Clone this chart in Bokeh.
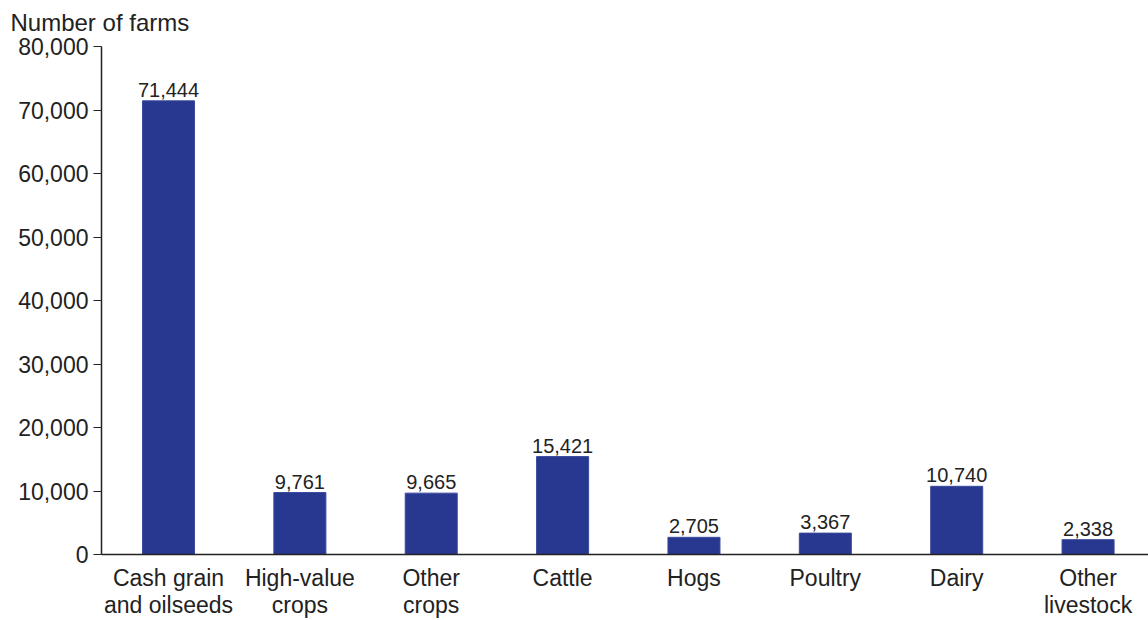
from bokeh.plotting import figure
from bokeh.models import FixedTicker, NumeralTickFormatter, Range1d, ColumnDataSource
from bokeh.core.properties import value
from bokeh.embed import file_html
from bokeh.resources import INLINE

categories = ["Cash grain\nand oilseeds", "High-value\ncrops", "Other\ncrops", "Cattle",
              "Hogs", "Poultry", "Dairy", "Other\nlivestock"]
farms = [71444, 9761, 9665, 15421, 2705, 3367, 10740, 2338]
y_ticks = [0, 10000, 20000, 30000, 40000, 50000, 60000, 70000, 80000]
title_text = "Number of farms"

xs = list(range(len(categories)))
src = ColumnDataSource(dict(x=xs, top=farms, lab=[f"{v:,}" for v in farms]))

FONT = "Liberation Sans"
p = figure(width=1148, height=620, output_backend="svg", toolbar_location=None,
           x_range=Range1d(-0.51, 7.46), y_range=Range1d(0, 80000),
           min_border_left=101, min_border_right=0, min_border_top=46, min_border_bottom=66,
           title=title_text)
p.title.text_font = FONT
p.title.text_font_size = "24px"
p.title.text_font_style = "normal"
p.title.text_color = "#222222"
p.title.offset = -91
p.title.standoff = 17
p.title.vertical_align = "top"

p.vbar(x="x", top="top", width=0.396, source=src, fill_color="#283891", line_color="#3a4a9c", line_width=1)
p.text(x="x", y="top", text="lab", source=src, text_align="center", text_baseline="bottom",
       y_offset=-4, text_font=value(FONT), text_font_size="20px", text_color="#222222")

p.xgrid.visible = False
p.ygrid.visible = False
p.outline_line_color = None

ya = p.yaxis[0]
ya.ticker = FixedTicker(ticks=y_ticks)
ya.formatter = NumeralTickFormatter(format="0,0")
ya.major_tick_out = 8
ya.major_tick_in = 0
ya.minor_tick_out = 0
ya.minor_tick_in = 0
ya.major_label_standoff = 5
ya.major_label_text_font = FONT
ya.major_label_text_font_size = "23px"
ya.major_label_text_color = "#222222"
ya.axis_line_color = "#222222"
ya.major_tick_line_color = "#222222"
ya.axis_line_width = 1.5

xa = p.xaxis[0]
xa.ticker = FixedTicker(ticks=xs)
xa.major_label_overrides = {i: c for i, c in enumerate(categories)}
xa.major_tick_out = 0
xa.major_tick_in = 0
xa.minor_tick_out = 0
xa.minor_tick_in = 0
xa.major_label_standoff = 10
xa.major_label_text_font = FONT
xa.major_label_text_font_size = "23px"
xa.major_label_text_line_height = 1.05
xa.major_label_text_color = "#222222"
xa.axis_line_color = "#222222"
xa.axis_line_width = 1.5

open("out.html", "w").write(file_html(p, INLINE))
